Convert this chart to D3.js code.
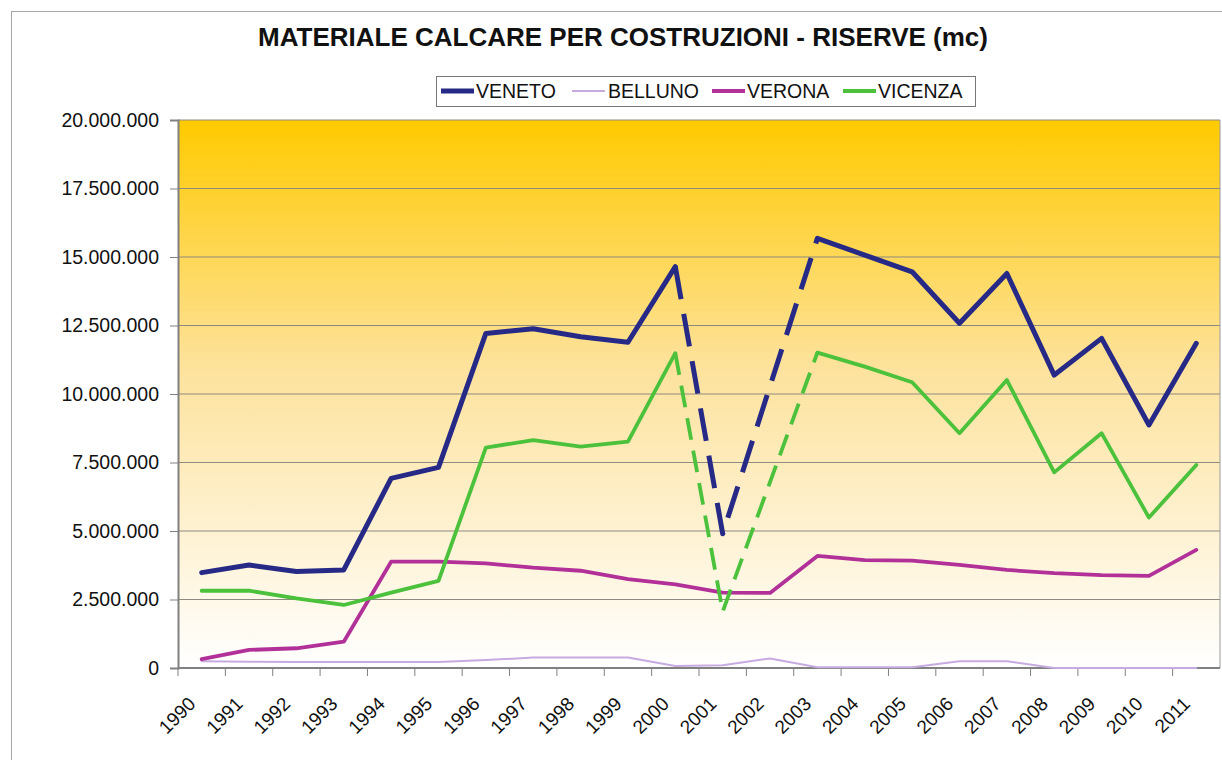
<!DOCTYPE html>
<html>
<head>
<meta charset="utf-8">
<script src="https://cdn.jsdelivr.net/npm/d3@7"></script>
<style>
  body { margin: 0; background: #fff; }
  svg { display: block; font-family: "Liberation Sans", Arial, sans-serif; }
</style>
</head>
<body>
<svg id="chart"></svg>
<script>
const chartSize = { width: 1222, height: 760 };
const plot = { left: 178, right: 1220, top: 120, bottom: 668 };

const title = "MATERIALE CALCARE PER COSTRUZIONI - RISERVE (mc)";

const years = d3.range(1990, 2012);
const yTicks = [0, 2500000, 5000000, 7500000, 10000000, 12500000, 15000000, 17500000, 20000000];

const veneto = [3480000, 3760000, 3520000, 3580000, 6920000, 7320000, 12210000, 12380000, 12090000, 11890000, 14650000,
  4900000, null, 15680000, 15070000, 14460000, 12580000, 14400000, 10690000, 12030000, 8870000, 11850000];
const belluno = [250000, 230000, 220000, 220000, 220000, 220000, 290000, 380000, 380000, 380000, 70000,
  100000, 350000, 30000, 30000, 30000, 250000, 250000, 0, 0, 0, 0];
const verona = [320000, 660000, 720000, 960000, 3880000, 3880000, 3820000, 3660000, 3550000, 3240000, 3050000,
  2750000, 2740000, 4090000, 3940000, 3920000, 3760000, 3580000, 3460000, 3390000, 3360000, 4310000];
const vicenza = [2820000, 2820000, 2540000, 2300000, 2750000, 3180000, 8040000, 8320000, 8080000, 8260000, 11490000,
  2060000, null, 11510000, 11000000, 10430000, 8570000, 10510000, 7140000, 8570000, 5490000, 7410000];

// years whose segments are drawn dashed (estimates)
const venetoDashed = [2001];
const vicenzaDashed = [2001];

const series = [
  { name: "VENETO", values: veneto, dashed: venetoDashed, color: "#262a86", width: 5, dash: "33,15" },
  { name: "BELLUNO", values: belluno, dashed: [], color: "#c7abe0", width: 2, dash: null },
  { name: "VERONA", values: verona, dashed: [], color: "#b23199", width: 3.8, dash: null },
  { name: "VICENZA", values: vicenza, dashed: vicenzaDashed, color: "#4cc13c", width: 3.8, dash: "22,11" }
];

const legendPos = [441, 572, 712, 843];

const itFormat = d3.formatLocale({ decimal: ",", thousands: ".", grouping: [3], currency: ["", "€"] }).format(",d");

const svg = d3.select("#chart")
  .attr("width", chartSize.width)
  .attr("height", chartSize.height);

// outer frame
svg.append("rect")
  .attr("x", 11.5).attr("y", 11.5)
  .attr("width", 1300).attr("height", 800)
  .attr("fill", "none").attr("stroke", "#a6a6a6").attr("stroke-width", 1);

const grad = svg.append("defs").append("linearGradient")
  .attr("id", "bg").attr("x1", 0).attr("y1", 0).attr("x2", 0).attr("y2", 1);
grad.append("stop").attr("offset", "0%").attr("stop-color", "#ffca00");
grad.append("stop").attr("offset", "45%").attr("stop-color", "#fde29c");
grad.append("stop").attr("offset", "100%").attr("stop-color", "#ffffff");

const x = d3.scaleBand().domain(years).range([plot.left, plot.right]).padding(0);
const y = d3.scaleLinear().domain([0, 20000000]).range([plot.bottom, plot.top]);

svg.append("rect")
  .attr("x", plot.left).attr("y", plot.top)
  .attr("width", plot.right - plot.left).attr("height", plot.bottom - plot.top)
  .attr("fill", "url(#bg)");

// gridlines
svg.append("g").attr("class", "grid")
  .selectAll("line").data(yTicks).join("line")
  .attr("x1", plot.left).attr("x2", plot.right)
  .attr("y1", d => y(d)).attr("y2", d => y(d))
  .attr("stroke", "#8f8a80").attr("stroke-width", 1);

svg.append("line")
  .attr("x1", plot.right).attr("x2", plot.right)
  .attr("y1", plot.top).attr("y2", plot.bottom)
  .attr("stroke", "#9a9a9a").attr("stroke-width", 1);

// y axis
const yAxis = svg.append("g")
  .attr("transform", `translate(${plot.left},0)`)
  .call(d3.axisLeft(y).tickValues(yTicks).tickFormat(itFormat).tickSize(8).tickPadding(11));
yAxis.select(".domain").attr("stroke", "#808080").attr("stroke-width", 2);
yAxis.selectAll(".tick line").attr("stroke", "#808080");
yAxis.selectAll("text").attr("font-size", 19.5).attr("fill", "#111")
  .attr("font-family", "'Liberation Sans', Arial, sans-serif");

// x axis
svg.append("line")
  .attr("x1", plot.left).attr("x2", plot.right)
  .attr("y1", plot.bottom).attr("y2", plot.bottom)
  .attr("stroke", "#808080").attr("stroke-width", 2);

svg.append("g").selectAll("line").data(years).join("line")
  .attr("x1", d => x(d)).attr("x2", d => x(d))
  .attr("y1", plot.bottom).attr("y2", plot.bottom + 8)
  .attr("stroke", "#808080");

svg.append("g").selectAll("text").data(years).join("text")
  .attr("transform", d => `translate(${x(d) + x.bandwidth() / 2 - 5},${plot.bottom + 37}) rotate(-45)`)
  .attr("text-anchor", "end")
  .attr("font-size", 19)
  .attr("fill", "#111")
  .text(d => d);

// lines, split into solid and dashed runs
const line = d3.line().x(p => x(p.yr) + x.bandwidth() / 2).y(p => y(p.v));

const runsOf = s => {
  const pts = years.map((yr, i) => ({ yr, v: s.values[i] })).filter(p => p.v != null);
  const runs = [];
  for (let i = 1; i < pts.length; i++) {
    const a = pts[i - 1], b = pts[i];
    const dashed = s.dashed.includes(a.yr) || s.dashed.includes(b.yr) || b.yr - a.yr > 1;
    const last = runs[runs.length - 1];
    if (last && last.dashed === dashed) last.pts.push(b);
    else runs.push({ dashed, pts: [a, b] });
  }
  return runs;
};

series.forEach(s => {
  svg.append("g").attr("class", "series")
    .selectAll("path").data(runsOf(s)).join("path")
    .attr("d", r => line(r.pts))
    .attr("fill", "none")
    .attr("stroke", s.color)
    .attr("stroke-width", s.width)
    .attr("stroke-linejoin", "round")
    .attr("stroke-linecap", r => r.dashed ? "butt" : "round")
    .attr("stroke-dasharray", r => r.dashed ? s.dash : null);
});

// title
svg.append("text")
  .attr("x", 623).attr("y", 46)
  .attr("text-anchor", "middle")
  .attr("font-size", 26)
  .attr("font-weight", "bold")
  .attr("fill", "#111")
  .text(title);

// legend
svg.append("rect")
  .attr("x", 436.5).attr("y", 76.5)
  .attr("width", 539).attr("height", 30)
  .attr("fill", "#fff").attr("stroke", "#777");

const legend = svg.append("g").selectAll("g").data(series).join("g")
  .attr("transform", (d, i) => `translate(${legendPos[i]},91)`);
legend.append("line")
  .attr("x1", 0).attr("x2", 33).attr("y1", 0).attr("y2", 0)
  .attr("stroke", d => d.color).attr("stroke-width", d => d.width);
legend.append("text")
  .attr("x", d => d.name === "BELLUNO" ? 36 : 35)
  .attr("y", 7)
  .attr("font-size", 19.5)
  .attr("fill", "#111")
  .text(d => d.name);
</script>
</body>
</html>
